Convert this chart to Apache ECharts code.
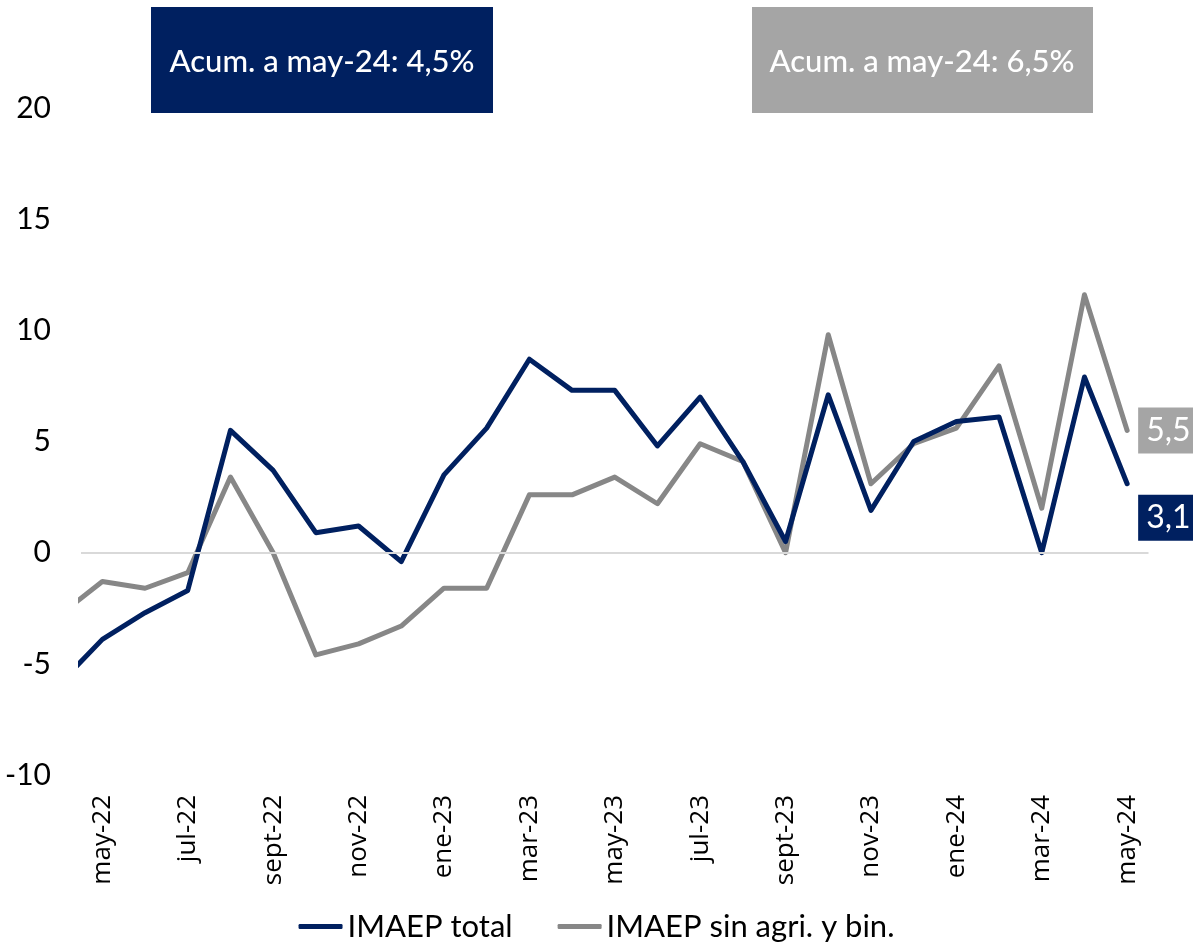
<!DOCTYPE html>
<html>
<head>
<meta charset="utf-8">
<script src="https://cdn.jsdelivr.net/npm/echarts@6/dist/echarts.min.js"></script>
<style>
	html, body { margin: 0; padding: 0; background: #fff; }
	#chart { width: 1193px; height: 947px; }
</style>
</head>
<body>
<div id="chart"></div>
<script>
// meses (abr-22 queda cortado en el borde izquierdo)
var meses = ['abr-22', 'may-22', 'jun-22', 'jul-22', 'ago-22', 'sept-22', 'oct-22', 'nov-22', 'dic-22',
	'ene-23', 'feb-23', 'mar-23', 'abr-23', 'may-23', 'jun-23', 'jul-23', 'ago-23', 'sept-23', 'oct-23',
	'nov-23', 'dic-23', 'ene-24', 'feb-24', 'mar-24', 'abr-24', 'may-24'];
var imaepTotal = [-5.9, -3.9, -2.7, -1.7, 5.5, 3.7, 0.9, 1.2, -0.4, 3.5, 5.6, 8.7, 7.3, 7.3, 4.8, 7.0,
	4.1, 0.5, 7.1, 1.9, 5.0, 5.9, 6.1, 0.0, 7.9, 3.1];
var imaepSinAgri = [-2.8, -1.3, -1.6, -0.9, 3.4, 0.0, -4.6, -4.1, -3.3, -1.6, -1.6, 2.6, 2.6, 3.4, 2.2, 4.9,
	4.1, 0.0, 9.8, 3.1, 4.9, 5.6, 8.4, 2.0, 11.6, 5.5];
// meses con etiqueta en el eje
var mesesVisibles = [1, 3, 5, 7, 9, 11, 13, 15, 17, 19, 21, 23, 25];
var acumTotal = 'Acum. a may-24: 4,5%';
var acumSinAgri = 'Acum. a may-24: 6,5%';

var azul = '#002060';
var gris = '#878787';
var grisCaja = '#a5a5a5';
var fuente = 'Lato, "Open Sans", sans-serif';

function coma(v) {
	return v.toFixed(1).replace('.', ',');
}

function etiquetaFinal(color, offsetY) {
	return {
		show: true,
		distance: 11,
		offset: [0, offsetY],
		formatter: function(p) { return coma(p.value[1]); },
		color: '#fff',
		backgroundColor: color,
		fontFamily: fuente,
		fontSize: 32,
		lineHeight: 34,
		padding: [6, 10, 6, 8],
	};
}

var chart = echarts.init(document.getElementById('chart'));
chart.setOption({
	animation: false,
	grid: { left: 81, right: 44.5, top: 108, bottom: 172 },
	xAxis: {
		type: 'value',
		min: 0.5,
		max: 25.5,
		axisLine: { show: false },
		axisTick: { show: false },
		splitLine: { show: false },
		axisLabel: {
			customValues: mesesVisibles,
			rotate: 90,
			margin: 20,
			color: '#000',
			fontFamily: '"Open Sans", sans-serif',
			fontSize: 26,
			formatter: function(v) { return meses[Math.round(v)]; },
		},
	},
	yAxis: {
		type: 'value',
		min: -10,
		max: 20,
		interval: 5,
		axisLine: { show: false },
		axisTick: { show: false },
		splitLine: { show: false },
		axisLabel: {
			margin: 30,
			color: '#000',
			fontFamily: fuente,
			fontSize: 30,
		},
	},
	legend: {
		bottom: 0,
		left: 'center',
		itemGap: 45,
		itemWidth: 44,
		itemHeight: 5,
		icon: 'roundRect',
		textStyle: { color: '#000', fontFamily: fuente, fontSize: 31 },
		data: ['IMAEP total', 'IMAEP sin agri. y bin.'],
	},
	series: [
		{
			name: 'IMAEP sin agri. y bin.',
			type: 'line',
			z: 2,
			data: imaepSinAgri.map(function(v, i) { return [i, v]; }),
			showSymbol: false,
			symbol: 'none',
			lineStyle: { color: gris, width: 5, cap: 'round', join: 'round' },
			itemStyle: { color: gris },
			endLabel: etiquetaFinal(grisCaja, 0),
			markLine: {
				silent: true,
				symbol: 'none',
				label: { show: false },
				lineStyle: { color: '#d9d9d9', width: 2, type: 'solid' },
				data: [{ yAxis: 0 }],
			},
		},
		{
			name: 'IMAEP total',
			type: 'line',
			z: 3,
			data: imaepTotal.map(function(v, i) { return [i, v]; }),
			showSymbol: false,
			symbol: 'none',
			lineStyle: { color: azul, width: 5, cap: 'round', join: 'round' },
			itemStyle: { color: azul },
			endLabel: etiquetaFinal(azul, 34),
		},
	],
	graphic: [
		{ type: 'rect', left: 151, top: 7, shape: { width: 342, height: 106 }, style: { fill: azul } },
		{ type: 'text', x: 322, y: 62, style: { text: acumTotal, fill: '#fff', fontFamily: fuente, fontSize: 31, fontWeight: 500, align: 'center', verticalAlign: 'middle' } },
		{ type: 'rect', left: 752, top: 7, shape: { width: 341, height: 106 }, style: { fill: grisCaja } },
		{ type: 'text', x: 922, y: 62, style: { text: acumSinAgri, fill: '#fff', fontFamily: fuente, fontSize: 31, fontWeight: 500, align: 'center', verticalAlign: 'middle' } },
	],
});
</script>
</body>
</html>
